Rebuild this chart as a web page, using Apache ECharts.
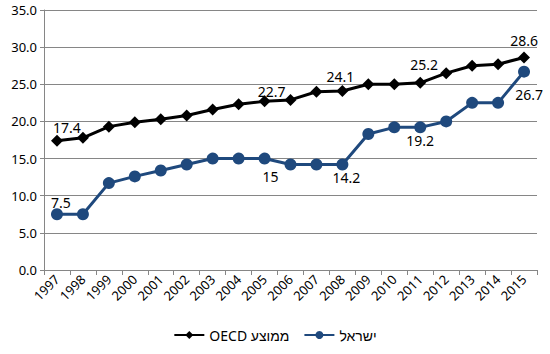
<!DOCTYPE html>
<html>
<head>
<meta charset="utf-8">
<script src="https://cdn.jsdelivr.net/npm/echarts@6/dist/echarts.min.js"></script>
<style>
    html, body { margin: 0; padding: 0; background: #fff; }
    #line-chart { width: 550px; height: 354px; }
</style>
</head>
<body>
<div id="line-chart"></div>
<script>
    let years = ['1997', '1998', '1999', '2000', '2001', '2002', '2003', '2004', '2005', '2006',
        '2007', '2008', '2009', '2010', '2011', '2012', '2013', '2014', '2015'];
    let oecdValues = [17.4, 17.8, 19.3, 19.9, 20.3, 20.8, 21.6, 22.3, 22.7, 22.9,
        24.0, 24.1, 25.0, 25.0, 25.2, 26.5, 27.5, 27.7, 28.6];
    let israelValues = [7.5, 7.5, 11.7, 12.6, 13.4, 14.2, 15.0, 15.0, 15.0, 14.2,
        14.2, 14.2, 18.3, 19.2, 19.2, 20.0, 22.5, 22.5, 26.7];
    let seriesNames = ['OECD ממוצע', 'ישראל'];

    // label placement per labelled year: [dx, dy] nudges (like hand-dragged excel labels)
    let oecdLabels = {'1997': [10, 0], '2005': [7, 3], '2008': [-2, -1], '2011': [4, -5], '2015': [0, -4]};
    let israelLabels = {'1997': [4, 1, 'top'], '2005': [6, 5], '2008': [4, 0], '2011': [0, 0], '2015': [5, 10]};

    let font = '"Noto Sans", sans-serif';
    // svg renderer so the hebrew legend text gets proper bidi layout
    let myChart = echarts.init(document.getElementById('line-chart'), null, {renderer: 'svg'});

    function labelled(values, labels, position) {
        return values.map((v, i) => {
            let cfg = labels[years[i]];
            if (!cfg) return v;
            return {
                value: v,
                label: {
                    show: true,
                    position: cfg[2] || position,
                    offset: [cfg[0], cfg[1]]
                }
            };
        });
    }

    let option = {
        backgroundColor: '#fff',
        animation: false,
        grid: {
            left: 44,
            right: 13,
            top: 10,
            bottom: 84
        },
        legend: {
            bottom: 7,
            left: 'center',
            itemWidth: 30,
            itemHeight: 10,
            itemGap: 14,
            textStyle: { fontFamily: font, fontSize: 14, color: '#000' },
            data: seriesNames
        },
        xAxis: {
            type: 'category',
            data: years,
            boundaryGap: true,
            axisLine: { lineStyle: { color: '#868686', width: 1 } },
            axisTick: { show: true, length: 5, lineStyle: { color: '#868686' } },
            axisLabel: {
                rotate: 45,
                interval: 0,
                margin: 7,
                color: '#000',
                fontFamily: font,
                fontSize: 13
            }
        },
        yAxis: {
            type: 'value',
            min: 0,
            max: 35,
            interval: 5,
            axisLine: { show: true, lineStyle: { color: '#868686' } },
            axisTick: { show: true, length: 4, lineStyle: { color: '#868686' } },
            splitLine: { lineStyle: { color: '#868686', width: 1 } },
            axisLabel: {
                formatter: v => v.toFixed(1),
                color: '#000',
                fontFamily: font,
                fontSize: 13,
                margin: 7
            }
        },
        series: [{
            name: seriesNames[0],
            type: 'line',
            data: labelled(oecdValues, oecdLabels, 'top'),
            symbol: 'diamond',
            symbolSize: 12,
            lineStyle: { color: '#000', width: 3 },
            itemStyle: { color: '#000' },
            label: { color: '#000', fontFamily: font, fontSize: 14, distance: 0 },
            z: 3
        }, {
            name: seriesNames[1],
            type: 'line',
            data: labelled(israelValues, israelLabels, 'bottom'),
            symbol: 'circle',
            symbolSize: 12,
            lineStyle: { color: '#1F497D', width: 3 },
            itemStyle: { color: '#1F497D' },
            label: { color: '#000', fontFamily: font, fontSize: 14, distance: 0 },
            z: 2
        }]
    };
    myChart.setOption(option);
</script>
</body>
</html>
